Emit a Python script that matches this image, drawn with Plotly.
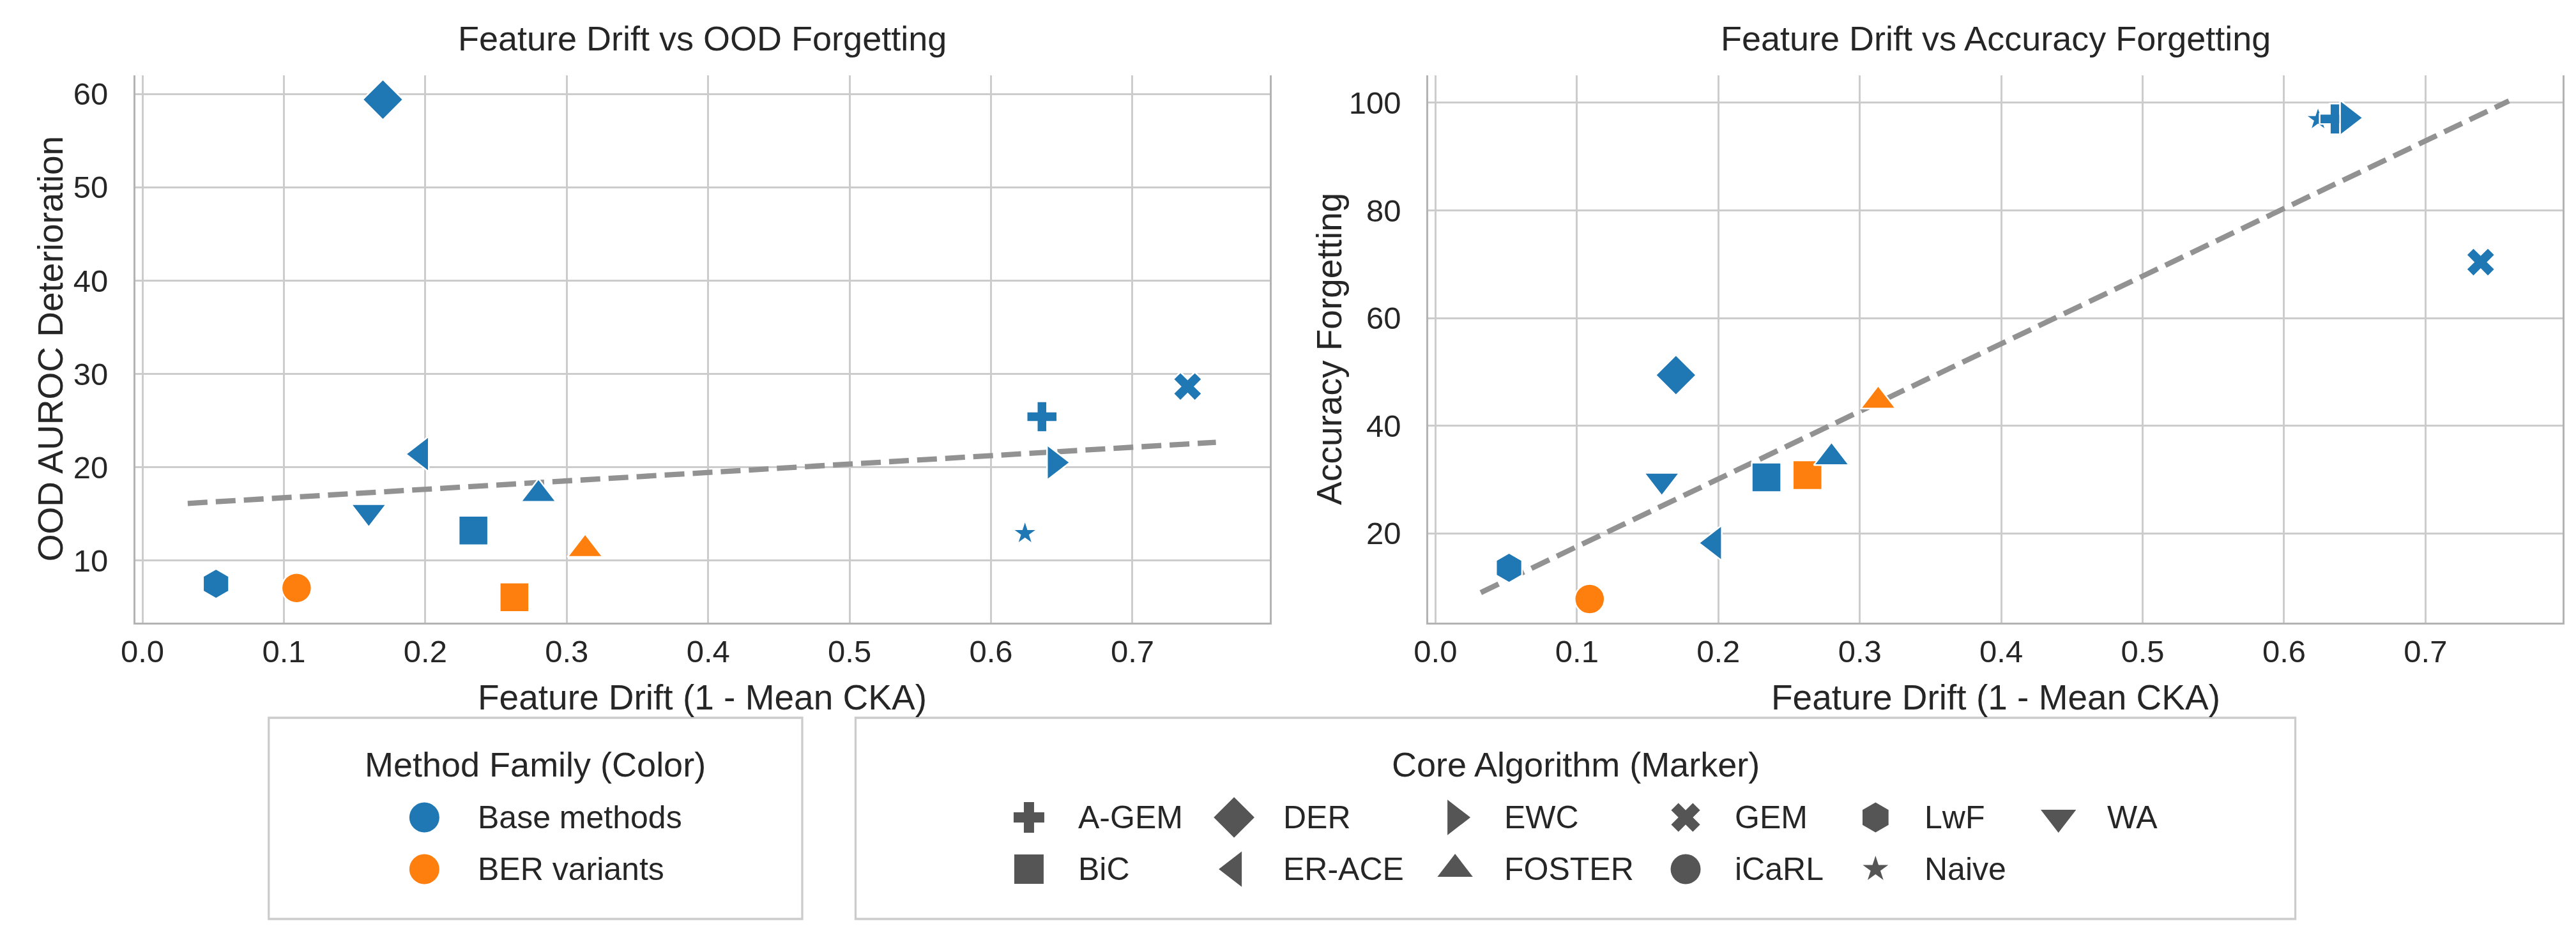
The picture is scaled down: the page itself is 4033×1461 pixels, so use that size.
import numpy as np
import plotly.graph_objects as go

# values
methods = ["LwF", "iCaRL + BER", "DER", "ER-ACE", "WA", "BiC", "BiC + BER",
           "FOSTER", "FOSTER + BER", "Naive", "A-GEM", "EWC", "GEM"]
core_algo = ["LwF", "iCaRL", "DER", "ER-ACE", "WA", "BiC", "BiC",
             "FOSTER", "FOSTER", "Naive", "A-GEM", "EWC", "GEM"]
family = ["Base methods", "BER variants", "Base methods", "Base methods", "Base methods",
          "Base methods", "BER variants", "Base methods", "BER variants",
          "Base methods", "Base methods", "Base methods", "Base methods"]
feature_drift = [0.052, 0.109, 0.170, 0.197, 0.160, 0.234, 0.263,
                 0.280, 0.313, 0.624, 0.636, 0.645, 0.739]
ood_drop = [7.5, 7.05, 59.4, 21.4, 15.2, 13.2, 6.05,
            17.1, 11.2, 12.9, 25.4, 20.5, 28.65]
acc_forget = [13.6, 7.8, 49.4, 18.2, 29.8, 30.4, 30.8,
              34.1, 44.6, 96.9, 97.0, 97.2, 70.4]

x_ticks = [0.0, 0.1, 0.2, 0.3, 0.4, 0.5, 0.6, 0.7]
ood_ticks = [10, 20, 30, 40, 50, 60]
acc_ticks = [20, 40, 60, 80, 100]

family_order = ["Base methods", "BER variants"]
algo_order = ["A-GEM", "BiC", "DER", "ER-ACE", "EWC", "FOSTER",
              "GEM", "iCaRL", "LwF", "Naive", "WA"]

# styling
W, H = 4033, 1461
FONT = "Liberation Sans, Arial, sans-serif"
INK = "#262626"
KEY_GREY = "#555555"
family_color = {"Base methods": "#1f77b4", "BER variants": "#ff7f0e"}
symbol = {"A-GEM": "cross", "BiC": "square", "DER": "diamond", "ER-ACE": "triangle-left",
          "EWC": "triangle-right", "FOSTER": "triangle-up", "GEM": "x", "iCaRL": "circle",
          "LwF": "hexagon", "Naive": "star", "WA": "triangle-down"}
msize = {"A-GEM": 40, "BiC": 46, "DER": 49, "ER-ACE": 48, "EWC": 48, "FOSTER": 48,
         "GEM": 40, "iCaRL": 47, "LwF": 47, "Naive": 30, "WA": 48}


def px(x):
    return x / W


def py(y):
    return 1 - y / H


# pixel boxes of the two panels
LEFT = (182, 1968)
RIGHT = (2218, 4004)
TOP, BOTTOM = 110, 967

fig = go.Figure()

panels = [
    ("x", "y", ood_drop, "Feature Drift vs OOD Forgetting", "OOD AUROC Deterioration", 48),
    ("x2", "y2", acc_forget, "Feature Drift vs Accuracy Forgetting", "Accuracy Forgetting", 2061),
]
annotations = []
for xa, ya, vals, title, ytitle, ytitle_x in panels:
    slope, icpt = np.polyfit(feature_drift, vals, 1)
    xs = np.linspace(min(feature_drift) - 0.02, max(feature_drift) + 0.02, 50)
    fig.add_trace(go.Scatter(
        x=xs, y=slope * xs + icpt, mode="lines", xaxis=xa, yaxis=ya,
        line=dict(color="#929292", width=8.3, dash="31px,13px"),
        showlegend=False, hoverinfo="skip"))
    fig.add_trace(go.Scatter(
        x=feature_drift, y=vals, mode="markers", xaxis=xa, yaxis=ya, text=methods,
        marker=dict(symbol=[symbol[a] for a in core_algo],
                    size=[msize[a] for a in core_algo],
                    color=[family_color[f] for f in family], opacity=1,
                    line=dict(color="white", width=2.5)),
        showlegend=False))

    box = LEFT if xa == "x" else RIGHT
    cx = px((box[0] + box[1]) / 2)
    annotations.append(dict(text=title, x=cx, y=py(52), xref="paper", yref="paper",
                            showarrow=False, xanchor="center", yanchor="middle",
                            font=dict(size=54, color=INK, family=FONT)))
    annotations.append(dict(text="Feature Drift (1 - Mean CKA)", x=cx, y=py(1084),
                            xref="paper", yref="paper", showarrow=False,
                            xanchor="center", yanchor="middle",
                            font=dict(size=55, color=INK, family=FONT)))
    annotations.append(dict(text=ytitle, x=px(ytitle_x), y=py((TOP + BOTTOM) / 2),
                            xref="paper", yref="paper", showarrow=False, textangle=-90,
                            xanchor="center", yanchor="middle",
                            font=dict(size=55, color=INK, family=FONT)))

# legends drawn by hand so the keys keep the size of the plotted markers
LEG_TOP, LEG_BOT = 1116, 1431
fam_box = (392, 1232)
algo_box = (1316, 3583)
title_y = 1189
row_y = [1272, 1353]
fam_key_x, fam_text_dx = 637, 82
algo_col_x = [1589, 1912, 2260, 2623, 2922, 3210]
algo_text_dx = 75

shapes = []
for x0, x1 in (fam_box, algo_box):
    shapes.append(dict(type="rect", xref="paper", yref="paper",
                       x0=px(x0), x1=px(x1), y0=py(LEG_BOT), y1=py(LEG_TOP),
                       line=dict(color="#cccccc", width=3.3), fillcolor="rgba(0,0,0,0)"))

annotations.append(dict(text="Method Family (Color)", x=px(sum(fam_box) / 2), y=py(title_y),
                        xref="paper", yref="paper", showarrow=False,
                        xanchor="center", yanchor="middle",
                        font=dict(size=54, color=INK, family=FONT)))
annotations.append(dict(text="Core Algorithm (Marker)", x=px(sum(algo_box) / 2), y=py(title_y),
                        xref="paper", yref="paper", showarrow=False,
                        xanchor="center", yanchor="middle",
                        font=dict(size=54, color=INK, family=FONT)))

key_x, key_y, key_sym, key_size, key_col = [], [], [], [], []
for i, f in enumerate(family_order):
    key_x.append(fam_key_x)
    key_y.append(row_y[i])
    key_sym.append("circle")
    key_size.append(msize["iCaRL"])
    key_col.append(family_color[f])
    annotations.append(dict(text=f, x=px(fam_key_x + fam_text_dx), y=py(row_y[i]),
                            xref="paper", yref="paper", showarrow=False,
                            xanchor="left", yanchor="middle",
                            font=dict(size=50, color=INK, family=FONT)))
for i, a in enumerate(algo_order):
    cx, ry = algo_col_x[i // 2], row_y[i % 2]
    key_x.append(cx)
    key_y.append(ry)
    key_sym.append(symbol[a])
    key_size.append(msize[a])
    key_col.append(KEY_GREY)
    annotations.append(dict(text=a, x=px(cx + algo_text_dx), y=py(ry),
                            xref="paper", yref="paper", showarrow=False,
                            xanchor="left", yanchor="middle",
                            font=dict(size=50, color=INK, family=FONT)))

fig.add_trace(go.Scatter(x=key_x, y=key_y, mode="markers", xaxis="x3", yaxis="y3",
                         marker=dict(symbol=key_sym, size=key_size, color=key_col,
                                     opacity=1, line=dict(width=0)),
                         showlegend=False, hoverinfo="skip"))

axis_common = dict(showgrid=True, gridcolor="#cccccc", gridwidth=2.8, zeroline=False,
                   showline=True, linecolor="#b3b3b3", linewidth=3, ticks="",
                   tickfont=dict(size=49, color=INK, family=FONT))
ydom = [py(BOTTOM), py(TOP)]

fig.update_layout(
    width=W, height=H,
    margin=dict(l=0, r=0, t=0, b=0, pad=0),
    paper_bgcolor="white", plot_bgcolor="rgba(0,0,0,0)",
    font=dict(family=FONT, color=INK),
    showlegend=False,
    xaxis=dict(domain=[px(LEFT[0]), px(LEFT[1])], anchor="y", range=[-0.005, 0.797],
               tickvals=x_ticks, tickformat=".1f", ticklabelstandoff=0, **axis_common),
    yaxis=dict(domain=ydom, anchor="x", range=[3.33, 62.0], tickvals=ood_ticks,
               mirror=True, ticklabelstandoff=30, **axis_common),
    xaxis2=dict(domain=[px(RIGHT[0]), px(RIGHT[1])], anchor="y2", range=[-0.005, 0.797],
                tickvals=x_ticks, tickformat=".1f", ticklabelstandoff=0, **axis_common),
    yaxis2=dict(domain=ydom, anchor="x2", range=[3.4, 105.1], tickvals=acc_ticks,
                mirror=True, ticklabelstandoff=30, **axis_common),
    xaxis3=dict(domain=[0, 1], anchor="y3", range=[0, W], visible=False),
    yaxis3=dict(domain=[0, py(1090)], anchor="x3", range=[H, 1090], visible=False),
    shapes=shapes,
    annotations=annotations,
)

fig.write_html("out.html")
